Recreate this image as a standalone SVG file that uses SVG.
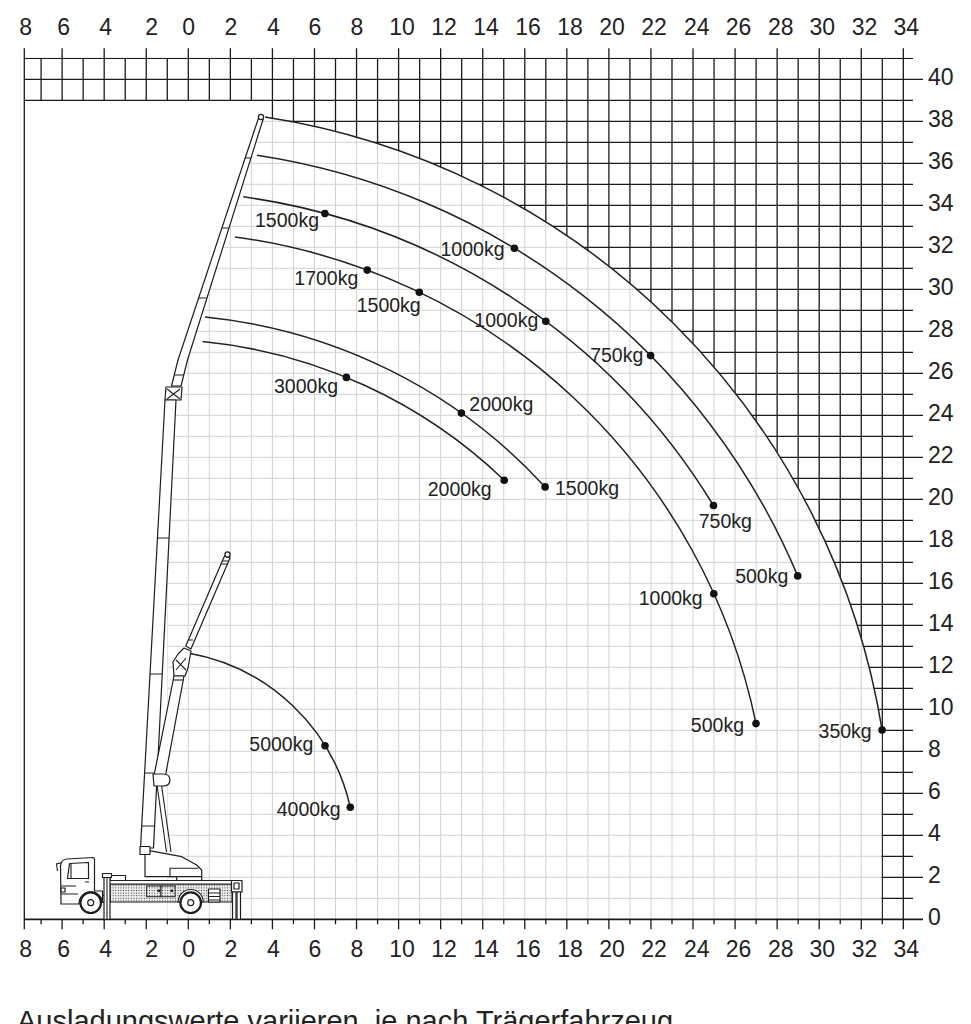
<svg xmlns="http://www.w3.org/2000/svg" width="971" height="1024" viewBox="0 0 971 1024">
<style>
.lg{stroke:#d2d2d2;stroke-width:1;fill:none}
.dg{stroke:#1a1a1a;stroke-width:1.3;fill:none}
.tk{stroke:#1a1a1a;stroke-width:1.3;fill:none}
.ax{font-family:"Liberation Sans",Arial,sans-serif;font-size:23px;fill:#222}
.lb{font-family:"Liberation Sans",Arial,sans-serif;font-size:19.5px;fill:#222}
.cv{fill:none;stroke:#222;stroke-width:1.5}
.dot{fill:#111}
.m{fill:#fff;stroke:#1e1e1e;stroke-width:1.2;stroke-linejoin:round}
.ln{fill:none;stroke:#1e1e1e;stroke-width:1.1}
.dt{fill:url(#dots);stroke:#1e1e1e;stroke-width:1}
</style>
<defs>
<pattern id="dots" width="2.6" height="2.6" patternUnits="userSpaceOnUse"><rect width="2.6" height="2.6" fill="#f2f2f2"/><circle cx="1.3" cy="1.3" r="0.65" fill="#444"/></pattern>
<clipPath id="lightClip"><path d="M167.3,919.3 V541 L169.5,541 L176.5,400 L181,386 L187.5,360 L263.5,118 L265.1,117.1 A739,739 0 0 1 882.1,730 L882.1,919.3 Z"/></clipPath>
<clipPath id="darkClip"><rect x="24.3" y="57.7" width="888.7" height="43.3"/><path d="M265.1,100 H913 V919.3 H881.5 V730 L882.1,730 A739,739 0 0 0 265.1,117.1 Z"/></clipPath>
</defs>
<rect width="971" height="1024" fill="#fff"/>

<g id="light-grid" clip-path="url(#lightClip)">
<path class="lg" d="M167.27 100V919.3M188.3 100V919.3M209.33 100V919.3M230.36 100V919.3M251.39 100V919.3M272.42 100V919.3M293.45 100V919.3M314.48 100V919.3M335.51 100V919.3M356.54 100V919.3M377.57 100V919.3M398.6 100V919.3M419.63 100V919.3M440.66 100V919.3M461.69 100V919.3M482.72 100V919.3M503.75 100V919.3M524.78 100V919.3M545.81 100V919.3M566.84 100V919.3M587.87 100V919.3M608.9 100V919.3M629.93 100V919.3M650.96 100V919.3M671.99 100V919.3M693.02 100V919.3M714.05 100V919.3M735.08 100V919.3M756.11 100V919.3M777.14 100V919.3M798.17 100V919.3M819.2 100V919.3M840.23 100V919.3M861.26 100V919.3
M160 898.3H882M160 877.3H882M160 856.3H882M160 835.3H882M160 814.3H882M160 793.3H882M160 772.3H882M160 751.3H882M160 730.3H882M160 709.3H882M160 688.3H882M160 667.3H882M160 646.3H882M160 625.3H882M160 604.3H882M160 583.3H882M160 562.3H882M160 541.3H882M160 520.3H882M160 499.3H882M160 478.3H882M160 457.3H882M160 436.3H882M160 415.3H882M160 394.3H882M160 373.3H882M160 352.3H882M160 331.3H882M160 310.3H882M160 289.3H882M160 268.3H882M160 247.3H882M160 226.3H882M160 205.3H882M160 184.3H882M160 163.3H882M160 142.3H882M160 121.3H882"/>
</g>

<g id="dark-grid" clip-path="url(#darkClip)">
<path class="dg" d="M41.09 58.3V919.3M62.12 58.3V919.3M83.15 58.3V919.3M104.18 58.3V919.3M125.21 58.3V919.3M146.24 58.3V919.3M167.27 58.3V919.3M188.3 58.3V919.3M209.33 58.3V919.3M230.36 58.3V919.3M251.39 58.3V919.3M272.42 58.3V919.3M293.45 58.3V919.3M314.48 58.3V919.3M335.51 58.3V919.3M356.54 58.3V919.3M377.57 58.3V919.3M398.6 58.3V919.3M419.63 58.3V919.3M440.66 58.3V919.3M461.69 58.3V919.3M482.72 58.3V919.3M503.75 58.3V919.3M524.78 58.3V919.3M545.81 58.3V919.3M566.84 58.3V919.3M587.87 58.3V919.3M608.9 58.3V919.3M629.93 58.3V919.3M650.96 58.3V919.3M671.99 58.3V919.3M693.02 58.3V919.3M714.05 58.3V919.3M735.08 58.3V919.3M756.11 58.3V919.3M777.14 58.3V919.3M798.17 58.3V919.3M819.2 58.3V919.3M840.23 58.3V919.3M861.26 58.3V919.3M882.29 58.3V919.3M903.32 58.3V919.3
M24.3 898.3H913M24.3 877.3H913M24.3 856.3H913M24.3 835.3H913M24.3 814.3H913M24.3 793.3H913M24.3 772.3H913M24.3 751.3H913M24.3 730.3H913M24.3 709.3H913M24.3 688.3H913M24.3 667.3H913M24.3 646.3H913M24.3 625.3H913M24.3 604.3H913M24.3 583.3H913M24.3 562.3H913M24.3 541.3H913M24.3 520.3H913M24.3 499.3H913M24.3 478.3H913M24.3 457.3H913M24.3 436.3H913M24.3 415.3H913M24.3 394.3H913M24.3 373.3H913M24.3 352.3H913M24.3 331.3H913M24.3 310.3H913M24.3 289.3H913M24.3 268.3H913M24.3 247.3H913M24.3 226.3H913M24.3 205.3H913M24.3 184.3H913M24.3 163.3H913M24.3 142.3H913M24.3 121.3H913M24.3 100.3H913M24.3 79.3H913M24.3 58.3H913"/>
</g>

<g id="axes">
<path class="tk" d="M24.3 48.3V929.3"/>
<path d="M24.3 919.3H923" stroke="#1a1a1a" stroke-width="1.7" fill="none"/>
<path class="tk" d="M62.12 48.3V58.3M104.18 48.3V58.3M146.24 48.3V58.3M188.3 48.3V58.3M230.36 48.3V58.3M272.42 48.3V58.3M314.48 48.3V58.3M356.54 48.3V58.3M398.6 48.3V58.3M440.66 48.3V58.3M482.72 48.3V58.3M524.78 48.3V58.3M566.84 48.3V58.3M608.9 48.3V58.3M650.96 48.3V58.3M693.02 48.3V58.3M735.08 48.3V58.3M777.14 48.3V58.3M819.2 48.3V58.3M861.26 48.3V58.3M903.32 48.3V58.3"/>
<path class="tk" d="M62.12 919.3V929.3M104.18 919.3V929.3M146.24 919.3V929.3M188.3 919.3V929.3M230.36 919.3V929.3M272.42 919.3V929.3M314.48 919.3V929.3M356.54 919.3V929.3M398.6 919.3V929.3M440.66 919.3V929.3M482.72 919.3V929.3M524.78 919.3V929.3M566.84 919.3V929.3M608.9 919.3V929.3M650.96 919.3V929.3M693.02 919.3V929.3M735.08 919.3V929.3M777.14 919.3V929.3M819.2 919.3V929.3M861.26 919.3V929.3M903.32 919.3V929.3
M41.09 919.3V924.3M83.15 919.3V924.3M125.21 919.3V924.3M167.27 919.3V924.3M209.33 919.3V924.3M251.39 919.3V924.3M293.45 919.3V924.3M335.51 919.3V924.3M377.57 919.3V924.3M419.63 919.3V924.3M461.69 919.3V924.3M503.75 919.3V924.3M545.81 919.3V924.3M587.87 919.3V924.3M629.93 919.3V924.3M671.99 919.3V924.3M714.05 919.3V924.3M756.11 919.3V924.3M798.17 919.3V924.3M840.23 919.3V924.3M882.29 919.3V924.3"/>
<path class="tk" d="M913 877.3H923M913 835.3H923M913 793.3H923M913 751.3H923M913 709.3H923M913 667.3H923M913 625.3H923M913 583.3H923M913 541.3H923M913 499.3H923M913 457.3H923M913 415.3H923M913 373.3H923M913 331.3H923M913 289.3H923M913 247.3H923M913 205.3H923M913 163.3H923M913 121.3H923M913 79.3H923"/>
<g class="ax" text-anchor="middle">
<text x="25.7" y="35">8</text><text x="63.7" y="35">6</text><text x="105.7" y="35">4</text><text x="151.7" y="35">2</text><text x="188.7" y="35">0</text><text x="231" y="35">2</text><text x="273.3" y="35">4</text><text x="315" y="35">6</text><text x="357" y="35">8</text><text x="402" y="35">10</text><text x="444" y="35">12</text><text x="486" y="35">14</text><text x="528" y="35">16</text><text x="570" y="35">18</text><text x="612" y="35">20</text><text x="654" y="35">22</text><text x="696.7" y="35">24</text><text x="738.5" y="35">26</text><text x="780.8" y="35">28</text><text x="822.2" y="35">30</text><text x="864.5" y="35">32</text><text x="906.3" y="35">34</text>
<text x="25.7" y="956.5">8</text><text x="63.7" y="956.5">6</text><text x="105.7" y="956.5">4</text><text x="151.7" y="956.5">2</text><text x="188.7" y="956.5">0</text><text x="231" y="956.5">2</text><text x="273.3" y="956.5">4</text><text x="315" y="956.5">6</text><text x="357" y="956.5">8</text><text x="402" y="956.5">10</text><text x="444" y="956.5">12</text><text x="486" y="956.5">14</text><text x="528" y="956.5">16</text><text x="570" y="956.5">18</text><text x="612" y="956.5">20</text><text x="654" y="956.5">22</text><text x="696.7" y="956.5">24</text><text x="738.5" y="956.5">26</text><text x="780.8" y="956.5">28</text><text x="822.2" y="956.5">30</text><text x="864.5" y="956.5">32</text><text x="906.3" y="956.5">34</text>
</g>
<g class="ax">
<text x="928" y="85">40</text><text x="928" y="127">38</text><text x="928" y="169">36</text><text x="928" y="211">34</text><text x="928" y="253">32</text><text x="928" y="295">30</text><text x="928" y="337">28</text><text x="928" y="379">26</text><text x="928" y="421">24</text><text x="928" y="463">22</text><text x="928" y="505">20</text><text x="928" y="547">18</text><text x="928" y="589">16</text><text x="928" y="631">14</text><text x="928" y="673">12</text><text x="928" y="715">10</text><text x="928" y="757">8</text><text x="928" y="799">6</text><text x="928" y="841">4</text><text x="928" y="883">2</text><text x="928" y="925">0</text>
</g>
</g>

<g id="curves">
<path class="cv" d="M265.1,117.1 A739,739 0 0 1 882.1,730"/>
<path class="cv" d="M257,155.3 A700,700 0 0 1 797.7,575.9"/>
<path class="cv" d="M243.3,196.8 A657,657 0 0 1 713.5,505.5"/>
<path class="cv" d="M235,237 A616,616 0 0 1 756,723.6"/>
<path class="cv" d="M205,317.1 A533,533 0 0 1 545.1,486.9"/>
<path class="cv" d="M202.6,341.5 A508.5,508.5 0 0 1 504.2,480.2"/>
<path class="cv" d="M189.3,653.3 A201.7,201.7 0 0 1 350.3,807.3"/>
</g>

<g id="boom">
<polygon class="m" points="259,116.5 263.5,118 187.5,360 181,386 171.5,386 178,360"/>
<circle class="m" cx="261" cy="117" r="2.6"/>
<path class="ln" d="M245.2,158H250.9M222,228H229M198.7,298H206.9M174.5,375H183.8"/>
<polygon class="m" points="166,387 182,387 181,400 165,400"/>
<path class="ln" d="M167,389L180,399M180,389L167,399"/>
<polygon class="m" points="165,400 176,400 153.5,848 140.5,848"/>
<path class="ln" d="M157.45,538H169.07M150,674H162.2M144.6,773H157.3M141.7,826H154.6"/>
<path class="ln" d="M157,785L166.5,852M161.5,785L171,852"/>
</g>

<g id="jib">
<polygon class="m" points="224.5,556 230,558 190.9,649 185.8,646"/>
<circle class="m" cx="227.5" cy="554.5" r="2.6"/>
<path class="ln" d="M222.3,561H228.7M221.1,564H227.4M188.4,640H193.1"/>
<polygon class="m" points="184,648 191,651 188,668 185,676 174,676 173,662 178,654"/>
<path class="ln" d="M176,660L186,670M186,658L176,670"/>
<polygon class="m" points="174,676 184,676 165,778 153.5,778"/>
<path class="ln" d="M173.3,680H183.3"/>
<path class="m" d="M153,774 H163 Q170,774 170,780 Q170,786 163,786 H154 Z"/>
</g>

<g id="turret">
<polygon class="m" points="145,853 149.3,850.7 181.7,856.7 196.7,865 201.7,870 201.7,876.7 145,876.7"/>
<path class="ln" d="M170,876.7V868.3H198.3"/>
<rect class="m" x="140" y="846.5" width="10" height="8"/>
<rect class="m" x="176.7" y="876.7" width="25" height="6.6"/>
</g>

<g id="truck">
<rect class="dt" x="110" y="884" width="122" height="18"/>
<rect class="m" x="108.5" y="880.5" width="123.5" height="3.5"/>
<rect class="m" x="110" y="875.5" width="15.5" height="5"/>
<rect class="dt" x="146.7" y="886" width="14.3" height="10.7"/>
<rect class="dt" x="161" y="886" width="14" height="10.7"/>
<rect x="157.5" y="889.5" width="2.5" height="2.5" fill="#222"/>
<rect x="170.5" y="889.5" width="2.5" height="2.5" fill="#222"/>
<rect class="m" x="208.5" y="889" width="11.5" height="13"/>
<path class="ln" d="M208.5,893H220M208.5,896.5H220M208.5,900H220"/>
<path class="m" d="M178.2,902 A12.5,12.5 0 0 1 203.2,902 Z"/>
<rect class="m" x="94.5" y="895.5" width="15.5" height="7"/>
<path class="m" d="M61,904 L60.5,866 Q61,859.5 67,859 L93.5,857.5 L94.5,859 L94.5,891 L102.5,891 L102.5,902.5 A11.8,11.8 0 0 0 79,902.5 L79,904 Z"/>
<path class="m" d="M69.5,863.5 L88.5,862.5 L88.5,878.5 L67.5,878.5 Z"/>
<path class="ln" d="M71,863.5V878.5M62,862.5L56.5,864L57.5,871M61,886H76M61,894H78M85,882H89"/>
<rect class="m" x="61" y="888" width="4" height="4"/>
<circle cx="90.7" cy="902.7" r="10.3" fill="#fff" stroke="#1e1e1e" stroke-width="2.2"/>
<circle cx="90.7" cy="902.7" r="3" fill="#fff" stroke="#1e1e1e" stroke-width="1.2"/>
<circle cx="190.7" cy="902.7" r="10.3" fill="#fff" stroke="#1e1e1e" stroke-width="2.2"/>
<circle cx="190.7" cy="902.7" r="3" fill="#fff" stroke="#1e1e1e" stroke-width="1.2"/>
<rect class="m" x="104" y="877" width="6" height="42.3"/>
<rect class="m" x="102.5" y="873.5" width="9" height="4"/>
<path class="ln" d="M107,877V919.3"/>
<rect class="m" x="231.5" y="880.5" width="10.5" height="11.5"/>
<rect class="m" x="234" y="883" width="5" height="6"/>
<rect class="m" x="232.5" y="892" width="3.5" height="27.3"/>
<rect class="m" x="237" y="892" width="3.5" height="27.3"/>
</g>

<g id="points">
<circle class="dot" cx="882.1" cy="730" r="3.8"/>
<circle class="dot" cx="514.4" cy="248.3" r="3.8"/>
<circle class="dot" cx="650.6" cy="355.6" r="3.8"/>
<circle class="dot" cx="797.7" cy="575.9" r="3.8"/>
<circle class="dot" cx="324.9" cy="213.5" r="3.8"/>
<circle class="dot" cx="545.8" cy="321.2" r="3.8"/>
<circle class="dot" cx="713.5" cy="505.5" r="3.8"/>
<circle class="dot" cx="367.2" cy="270.1" r="3.8"/>
<circle class="dot" cx="419.3" cy="292.2" r="3.8"/>
<circle class="dot" cx="713.8" cy="593.7" r="3.8"/>
<circle class="dot" cx="756" cy="723.6" r="3.8"/>
<circle class="dot" cx="461.4" cy="413.1" r="3.8"/>
<circle class="dot" cx="545.1" cy="486.9" r="3.8"/>
<circle class="dot" cx="346.4" cy="377.4" r="3.8"/>
<circle class="dot" cx="504.2" cy="480.2" r="3.8"/>
<circle class="dot" cx="325" cy="745.7" r="3.8"/>
<circle class="dot" cx="350.3" cy="807.3" r="3.8"/>
</g>

<g id="labels" class="lb">
<text x="319" y="227" text-anchor="end">1500kg</text>
<text x="358.3" y="285" text-anchor="end">1700kg</text>
<text x="356.7" y="312">1500kg</text>
<text x="338" y="393.3" text-anchor="end">3000kg</text>
<text x="504.5" y="256" text-anchor="end">1000kg</text>
<text x="538.3" y="326.7" text-anchor="end">1000kg</text>
<text x="643.3" y="361.7" text-anchor="end">750kg</text>
<text x="469.3" y="410.7">2000kg</text>
<text x="491.7" y="496" text-anchor="end">2000kg</text>
<text x="555" y="495">1500kg</text>
<text x="725.3" y="527.7" text-anchor="middle">750kg</text>
<text x="788.3" y="582.7" text-anchor="end">500kg</text>
<text x="702.7" y="605" text-anchor="end">1000kg</text>
<text x="744" y="732.3" text-anchor="end">500kg</text>
<text x="871.7" y="737.7" text-anchor="end">350kg</text>
<text x="313.3" y="751" text-anchor="end">5000kg</text>
<text x="340.7" y="815.7" text-anchor="end">4000kg</text>
</g>

<text x="17" y="1031" font-family="'Liberation Sans',Arial,sans-serif" font-size="29" fill="#222">Ausladungswerte variieren, je nach Trägerfahrzeug</text>
</svg>
